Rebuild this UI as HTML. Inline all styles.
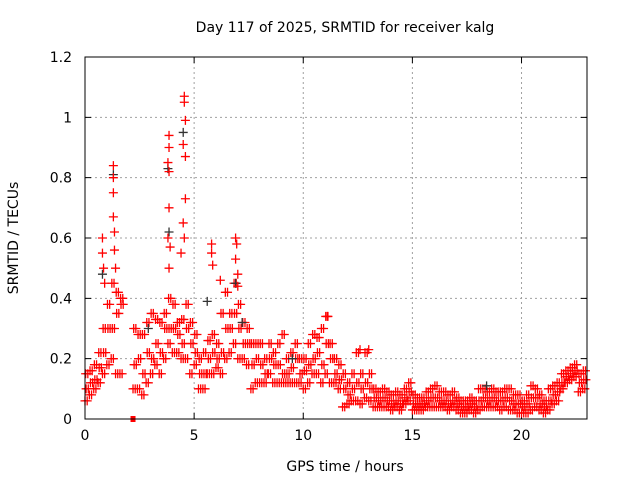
<!DOCTYPE html>
<html><head><meta charset="utf-8"><style>
body{margin:0;background:#fff;}
svg{display:block;font-family:"DejaVu Sans","Liberation Sans",sans-serif;}
</style></head><body>
<svg id="chart" width="640" height="480" viewBox="0 0 640 480">
<rect x="0" y="0" width="640" height="480" fill="#fff"/>
<text x="345" y="32" font-size="14" text-anchor="middle">Day 117 of 2025, SRMTID for receiver kalg</text>
<text x="345" y="471" font-size="14" text-anchor="middle">GPS time / hours</text>
<text transform="translate(18,238) rotate(-90)" font-size="14" text-anchor="middle">SRMTID / TECUs</text>
<g id="grid"></g><g id="ticks"></g><g id="marks"></g>
<rect x="85" y="57" width="502" height="362" fill="none" stroke="#000" stroke-width="1"/>
</svg>
<script>
const xTicks=[0,5,10,15,20];
const yTicks=[0,0.2,0.4,0.6,0.8,1,1.2];
const yTickLabels=["0","0.2","0.4","0.6","0.8","1","1.2"];
const times=[0,0.2,0.4,0.6,0.8,1.0,1.2,1.4,1.6,1.8,2.0,2.2,2.4,2.6,2.8,3.0,3.2,3.4,3.6,3.8,4.0,4.2,4.4,4.6,4.8,5.0,5.2,5.4,5.6,5.8,6.0,6.2,6.4,6.6,6.8,7.0,7.2,7.4,7.6,7.8,8.0,8.2,8.4,8.6,8.8,9.0,9.2,9.4,9.6,9.8,10.0,10.2,10.4,10.6,10.8,11.0,11.2,11.4,11.6,11.8,12.0,12.2,12.4,12.6,12.8,13.0,13.2,13.4,13.6,13.8,14.0,14.2,14.4,14.6,14.8,15.0,15.2,15.4,15.6,15.8,16.0,16.2,16.4,16.6,16.8,17.0,17.2,17.4,17.6,17.8,18.0,18.2,18.4,18.6,18.8,19.0,19.2,19.4,19.6,19.8,20.0,20.2,20.4,20.6,20.8,21.0,21.2,21.4,21.6,21.8,22.0,22.2,22.4,22.6,22.8];
const midVals=[0.1,0.12,0.13,0.17,0.22,0.3,0.3,0.35,0.38,null,null,0.18,0.2,0.15,0.22,0.2,0.25,0.22,0.3,0.3,0.3,0.28,0.25,0.3,0.25,0.22,0.15,0.15,0.2,0.22,0.2,0.22,0.3,0.3,0.35,0.3,0.25,0.25,0.18,0.2,0.18,0.15,0.2,0.18,0.18,0.15,0.15,0.17,0.2,0.15,0.16,0.18,0.2,0.22,0.18,0.25,0.2,0.15,0.13,0.1,0.08,0.1,0.12,0.1,0.12,0.1,0.07,0.06,0.07,0.06,0.05,0.06,0.05,0.07,0.09,0.05,0.05,0.05,0.06,0.07,0.07,0.06,0.06,0.05,0.06,0.05,0.04,0.04,0.05,0.04,0.06,0.07,0.06,0.07,0.06,0.06,0.07,0.06,0.05,0.05,0.04,0.05,0.07,0.07,0.05,0.04,0.06,0.08,0.09,0.12,0.14,0.15,0.16,0.12,0.13];
const loVals=[0.06,0.08,0.1,0.12,0.15,0.18,0.2,0.15,0.15,null,null,0.1,0.1,0.08,0.12,0.15,0.18,0.15,0.2,0.25,0.22,0.22,0.2,0.2,0.15,0.18,0.1,0.1,0.15,0.15,0.17,0.15,0.2,0.22,0.25,0.2,0.2,0.18,0.1,0.12,0.12,0.12,0.15,0.12,0.12,0.12,0.12,0.12,0.12,0.12,0.1,0.12,0.15,0.15,0.12,0.15,0.12,0.12,0.1,0.04,0.05,0.06,0.06,0.05,0.07,0.06,0.04,0.04,0.04,0.04,0.03,0.04,0.03,0.05,0.06,0.03,0.03,0.03,0.04,0.04,0.04,0.04,0.04,0.03,0.04,0.03,0.02,0.02,0.03,0.02,0.03,0.04,0.04,0.04,0.04,0.03,0.04,0.03,0.03,0.02,0.02,0.02,0.03,0.04,0.03,0.02,0.03,0.05,0.06,0.1,0.12,0.13,0.14,0.09,0.1];
const hiVals=[0.15,0.16,0.18,0.22,0.3,0.38,0.45,0.42,0.4,null,null,0.3,0.28,0.28,0.32,0.35,0.33,0.32,0.35,0.4,0.38,0.32,0.33,0.38,0.32,0.28,0.2,0.22,0.26,0.28,0.25,0.35,0.42,0.35,0.45,0.38,0.32,0.3,0.25,0.25,0.25,0.2,0.25,0.22,0.25,0.28,0.2,0.22,0.25,0.2,0.2,0.25,0.28,0.27,0.3,0.34,0.25,0.2,0.18,0.15,0.12,0.15,0.22,0.15,0.22,0.15,0.1,0.09,0.1,0.09,0.08,0.09,0.08,0.1,0.12,0.08,0.07,0.07,0.09,0.1,0.11,0.09,0.09,0.08,0.09,0.07,0.06,0.06,0.07,0.06,0.1,0.1,0.09,0.1,0.09,0.09,0.1,0.1,0.08,0.08,0.06,0.08,0.11,0.1,0.08,0.06,0.1,0.11,0.12,0.15,0.16,0.17,0.18,0.15,0.16];
const spikeTimes=[0.8,0.8,0.85,0.9,1.3,1.3,1.3,1.3,1.35,1.35,1.4,3.85,3.85,3.8,3.85,3.85,3.8,3.9,3.85,4.55,4.55,4.6,4.5,4.6,4.6,4.5,4.55,4.4,5.8,5.8,5.85,6.2,6.9,6.95,6.9,7.0,7.0,11.1,12.6,13.0];
const spikeVals=[0.6,0.55,0.5,0.45,0.84,0.8,0.75,0.67,0.62,0.56,0.5,0.94,0.9,0.85,0.82,0.7,0.6,0.57,0.5,1.07,1.05,0.99,0.91,0.87,0.73,0.65,0.6,0.55,0.58,0.55,0.51,0.46,0.6,0.58,0.53,0.48,0.44,0.34,0.23,0.23];
const blackTimes=[0.8,1.3,3.8,3.85,4.5,5.6,6.9,7.2,2.9,9.5,18.4];
const blackVals=[0.48,0.81,0.83,0.62,0.95,0.39,0.45,0.32,0.3,0.2,0.11];
const squareTimes=[2.2];
const squareVals=[0];

const X0=85,X1=587,Y0=419,Y1=57,XMAX=23,YMAX=1.2;
const xs=t=>X0+t*(X1-X0)/XMAX;
const ys=v=>Y0-v*(Y0-Y1)/YMAX;
const NS="http://www.w3.org/2000/svg";
function mk(tag,attrs,parent){const e=document.createElementNS(NS,tag);for(const k in attrs)e.setAttribute(k,attrs[k]);parent.appendChild(e);return e;}
const grid=document.getElementById('grid'),ticks=document.getElementById('ticks'),marks=document.getElementById('marks');
xTicks.forEach(t=>{const x=xs(t);
 if(t>0){const g=mk('line',{x1:x,y1:Y1,x2:x,y2:Y0,stroke:'#a0a0a0','stroke-dasharray':'2,3'},grid);
 
 }
 const tk=mk('path',{d:`M${x},${Y0}v-6M${x},${Y1}v6`,stroke:'#000'},ticks);
 
 
 const l=mk('text',{x:x,y:Y0+21,'font-size':14,'text-anchor':'middle'},ticks);l.textContent=String(t);
 
 
});
yTicks.forEach((v,i)=>{const y=ys(v);
 if(v>0&&v<YMAX){const g=mk('line',{x1:X0,y1:y,x2:X1,y2:y,stroke:'#a0a0a0','stroke-dasharray':'2,3'},grid);
 
 }
 const tk=mk('path',{d:`M${X0},${y}h6M${X1},${y}h-6`,stroke:'#000'},ticks);
 
 
 const l=mk('text',{x:X0-13,y:y+5,'font-size':14,'text-anchor':'end'},ticks);l.textContent=yTickLabels[i];
 
 
});
function plus(t,v,color,name){if(v===null)return;const x=xs(t),y=ys(v);
 const p=mk('path',{d:`M${x-4.5},${y}h9M${x},${y-4.5}v9`,stroke:color,'stroke-width':1.3},marks);
 
 }
times.forEach((t,i)=>{
 plus(t,loVals[i],'#ff0000','point-low');
 plus(t+0.1,loVals[i],'#ff0000','point-low');
 plus(t+0.05,midVals[i],'#ff0000','point-mid');
 plus(t+0.15,midVals[i],'#ff0000','point-mid');
 plus(t+0.03,hiVals[i],'#ff0000','point-high');
 plus(t+0.13,hiVals[i],'#ff0000','point-high');
});
blackTimes.forEach((t,i)=>plus(t,blackVals[i],'#333','point-black'));
spikeTimes.forEach((t,i)=>plus(t,spikeVals[i],'#ff0000','point-spike'));
squareTimes.forEach((t,i)=>{const r=mk('rect',{x:xs(t)-2.5,y:ys(squareVals[i])-3,width:5,height:6,fill:'#ff0000'},marks);
 
 });
</script>
</body></html>
